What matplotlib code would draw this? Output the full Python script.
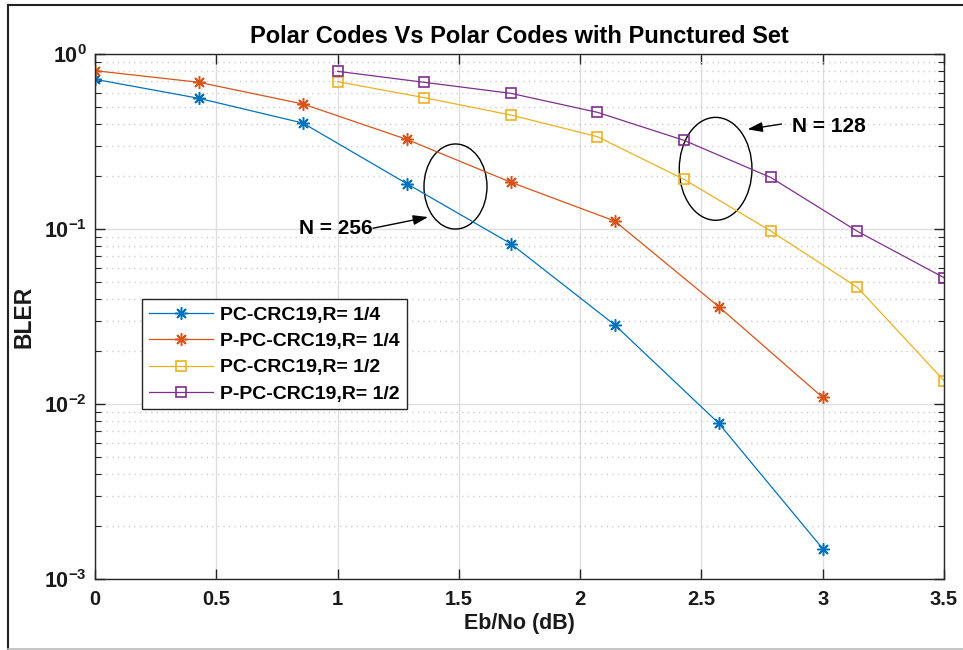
import matplotlib
matplotlib.use("Agg")
import matplotlib.pyplot as plt
from matplotlib.patches import Ellipse
from matplotlib.lines import Line2D
from matplotlib.ticker import LogLocator, FixedLocator, NullFormatter

plt.rcParams['font.family'] = ['Liberation Sans', 'DejaVu Sans']
plt.rcParams['font.weight'] = 'bold'
plt.rcParams['mathtext.fontset'] = 'custom'
plt.rcParams['mathtext.rm'] = 'Liberation Sans:bold'
plt.rcParams['mathtext.bf'] = 'Liberation Sans:bold'
plt.rcParams['mathtext.default'] = 'bf'

# Eb/No grid (dB) for each code length
ebno_256 = [0.0, 0.4286, 0.8571, 1.2857, 1.7143, 2.1429, 2.5714, 3.0]
ebno_128 = [1.0, 1.3571, 1.7143, 2.0714, 2.4286, 2.7857, 3.1429, 3.5]

# Block error rates
bler_pc_r14 = [0.717, 0.558, 0.403, 0.1815, 0.0824, 0.0283, 0.00776, 0.00149]
bler_ppc_r14 = [0.803, 0.689, 0.518, 0.325, 0.185, 0.111, 0.036, 0.0109]
bler_pc_r12 = [0.695, 0.563, 0.448, 0.337, 0.192, 0.0974, 0.0464, 0.0136]
bler_ppc_r12 = [0.796, 0.689, 0.596, 0.464, 0.321, 0.197, 0.097, 0.0527]

labels = ['PC-CRC19,R= 1/4', 'P-PC-CRC19,R= 1/4', 'PC-CRC19,R= 1/2', 'P-PC-CRC19,R= 1/2']
colors = ['#0072BD', '#D95319', '#EDB120', '#7E2F8E']
x_ticks = [0, 0.5, 1, 1.5, 2, 2.5, 3, 3.5]

W, H = 963, 650
fig = plt.figure(figsize=(W / 100, H / 100), dpi=100)
fig.patch.set_facecolor('white')
ax = fig.add_axes([95 / W, (H - 579) / H, 849 / W, 525 / H])

# asterisk marker: "+" and "x" combined
star = (8, 2, 0)
lw = 0.9
ax.plot(ebno_256, bler_pc_r14, '-', marker=star, color=colors[0], lw=lw, ms=9, mew=1.1, label=labels[0])
ax.plot(ebno_256, bler_ppc_r14, '-', marker=star, color=colors[1], lw=lw, ms=9, mew=1.1, label=labels[1])
ax.plot(ebno_128, bler_pc_r12, '-s', color=colors[2], lw=lw, ms=7.5, mew=1.2, mfc='none', label=labels[2])
ax.plot(ebno_128, bler_ppc_r12, '-s', color=colors[3], lw=lw, ms=7.5, mew=1.2, mfc='none', label=labels[3])

ax.set_yscale('log')
ax.set_xlim(0, 3.5)
ax.set_ylim(1e-3, 1)
ax.xaxis.set_major_locator(FixedLocator(x_ticks))
ax.set_xticklabels([f'{v:g}' for v in x_ticks])
ax.yaxis.set_major_locator(LogLocator(base=10, numticks=10))
ax.yaxis.set_minor_locator(LogLocator(base=10, subs=range(2, 10), numticks=20))
ax.yaxis.set_minor_formatter(NullFormatter())

ax.grid(True, which='major', color='#dedede', lw=1.0, ls='-')
ax.grid(True, which='minor', axis='y', color='#cfcfcf', lw=1.0, ls=(0, (1, 3)))
ax.set_axisbelow(True)

edge = '#262626'
for s in ax.spines.values():
    s.set_color(edge)
    s.set_linewidth(1.0)
ax.tick_params(which='both', direction='in', top=True, right=True, colors=edge,
               labelcolor='#1a1a1a')
ax.tick_params(axis='x', labelsize=14.5, pad=8)
ax.tick_params(axis='y', labelsize=15.5, pad=6)
ax.tick_params(which='major', length=7, width=1.0)
ax.tick_params(which='minor', length=4, width=0.8)
for t in ax.get_xticklabels() + ax.get_yticklabels():
    t.set_fontweight('bold')

ax.set_title('Polar Codes Vs Polar Codes with Punctured Set', fontsize=17,
             fontweight='bold', pad=8, color='black')
ax.set_xlabel('Eb/No (dB)', fontsize=15.5, fontweight='bold', labelpad=3, color='#1a1a1a')
ax.set_ylabel('BLER', fontsize=16.5, fontweight='bold', labelpad=6, color='#1a1a1a')

leg = ax.legend(loc='upper left', bbox_to_anchor=(0.055, 0.533), fontsize=14,
                frameon=True, fancybox=False, framealpha=1, edgecolor='#262626',
                handlelength=3.3, handletextpad=0.4, borderpad=0.35, labelspacing=0.45,
                borderaxespad=0)
leg.get_frame().set_linewidth(1.0)
for txt in leg.get_texts():
    txt.set_fontweight('bold')

# Ellipses grouping the two code lengths
ax.add_patch(Ellipse((0.4246, 0.7476), 0.0742, 0.162, transform=ax.transAxes,
                     fill=False, ec='black', lw=1.0))
ax.add_patch(Ellipse((0.731, 0.7813), 0.0856, 0.196, transform=ax.transAxes,
                     fill=False, ec='black', lw=1.0))

arrow = dict(arrowstyle='-|>,head_length=0.9,head_width=0.3', color='black', lw=1.0,
             shrinkA=0, shrinkB=0)
ax.annotate('', xy=(1.373, 0.117), xytext=(1.146, 0.101), arrowprops=arrow)
ax.text(1.146, 0.101, 'N = 256', ha='right', va='center', fontsize=15, fontweight='bold')
ax.annotate('', xy=(2.69, 0.371), xytext=(2.83, 0.398), arrowprops=arrow)
ax.text(2.872, 0.384, 'N = 128', ha='left', va='center', fontsize=15, fontweight='bold')

# Outer frame
fig.add_artist(Line2D([8 / W, 8 / W], [0, 1 - 5 / H], color='#222222', lw=1.5))
fig.add_artist(Line2D([8 / W, 1], [1 - 5 / H, 1 - 5 / H], color='#222222', lw=1.5))
fig.add_artist(Line2D([8 / W, 1], [1 / H, 1 / H], color='#bbbbbb', lw=1.2))

fig.savefig('out.png', dpi=100)
